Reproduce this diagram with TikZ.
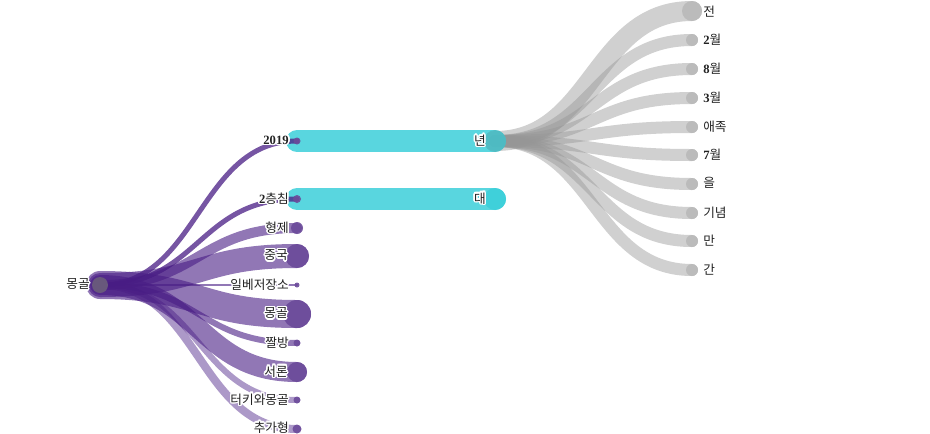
\documentclass[tikz,border=0pt]{standalone}
\usepackage{fontspec}
\setmainfont{Noto Sans CJK KR}
\newfontfamily\numf{Liberation Serif}
\usepackage{contour}
\contourlength{1.1pt}
\usetikzlibrary{calc}
\definecolor{plink}{RGB}{72,28,132}
\definecolor{pnode}{RGB}{107,74,154}
\definecolor{cyanc}{RGB}{60,207,217}
\definecolor{glink}{RGB}{150,150,150}
\definecolor{gnode}{RGB}{187,187,187}
\definecolor{rootc}{RGB}{104,88,124}
\definecolor{txt}{RGB}{34,34,34}
\tikzset{
  lnk/.style={line cap=round, draw=#1},
  lbl/.style={inner sep=0pt, text=txt, font=\fontsize{9.5}{10}\selectfont},
  dot/.style={circle, inner sep=0pt, draw=none}
}
\newcommand\dg[1]{{\numf\bfseries #1}}
\begin{document}
\begin{tikzpicture}[x=0.75pt,y=-0.75pt]
\useasboundingbox (0,0) rectangle (930,433);
\coordinate (root) at (100,285);
\foreach \i/\y in {1/141,2/199,3/228,4/256,5/285,6/314,7/343,8/372,9/400,10/429}
  \coordinate (p\i) at (297,\y);
\coordinate (q1) at (495,141);
\coordinate (q2) at (495,199);
\foreach \i/\y in {1/11,2/40,3/69,4/98,5/127,6/155,7/184,8/213,9/241,10/270}
  \coordinate (g\i) at (692,\y);
% grey links
\foreach \i/\w in {1/20,2/12,3/12,4/12,5/12,6/12,7/12,8/12,9/12,10/12}{
  \path (q1) -- coordinate[pos=.5] (m) (g\i);
  \draw[lnk=glink, draw opacity=0.45, line width=\w*0.75pt] (q1) .. controls (m |- q1) and (m |- g\i) .. (g\i);
}
% cyan links
\draw[lnk=cyanc, draw opacity=0.85, line width=22*0.75pt] (p1) -- (q1);
\draw[lnk=cyanc, draw opacity=0.85, line width=22*0.75pt] (p2) -- (q2);
% purple links
\foreach \i/\w/\o in {1/5/0.75,2/5/0.75,3/10/0.6,4/24/0.6,5/2/0.6,6/28/0.6,7/6/0.6,8/20/0.6,9/6/0.45,10/8/0.45}{
  \path (root) -- coordinate[pos=.5] (m) (p\i);
  \draw[lnk=plink, draw opacity=\o, line width=\w*0.75pt] (root) .. controls (m |- root) and (m |- p\i) .. (p\i);
}
% nodes
\node[dot, fill=rootc, minimum size=16*0.75pt] (n-root) at (root) {};
\foreach \i/\r in {1/3.5,2/4,3/6,4/12,5/2.5,6/14,7/3.5,8/10,9/3.5,10/4.5}
  \node[dot, fill=pnode, fill opacity=0.9, minimum size=2*\r*0.75pt] (n-p\i) at (p\i) {};
\node[dot, fill=cyanc!70!gray, fill opacity=0.75, minimum size=22*0.75pt] (n-q1) at (q1) {};
\node[dot, fill=cyanc, fill opacity=0.9, minimum size=22*0.75pt] (n-q2) at (q2) {};
\foreach \i/\r in {1/10,2/6,3/6,4/6,5/6,6/6,7/6,8/6,9/6,10/6}
  \node[dot, fill=gnode, minimum size=2*\r*0.75pt] (n-g\i) at (g\i) {};
% labels
\node[lbl, anchor=east] (t-root) at (90,285) {\contour{white}{몽골}};
\node[lbl, anchor=east] (t-p1) at (289,141) {\contour{white}{\dg{2019}}};
\node[lbl, anchor=east] (t-p2) at (289,199) {\contour{white}{\dg{2}층침}};
\node[lbl, anchor=east] (t-p3) at (289,228) {\contour{white}{형제}};
\node[lbl, anchor=east] (t-p4) at (288,256) {\contour{white}{중국}};
\node[lbl, anchor=east] (t-p5) at (289,285) {\contour{white}{일베저장소}};
\node[lbl, anchor=east] (t-p6) at (288,314) {\contour{white}{몽골}};
\node[lbl, anchor=east] (t-p7) at (289,343) {\contour{white}{짤방}};
\node[lbl, anchor=east] (t-p8) at (288,372) {\contour{white}{서론}};
\node[lbl, anchor=east] (t-p9) at (289,400) {\contour{white}{터키와몽골}};
\node[lbl, anchor=east] (t-p10) at (289,428) {\contour{white}{추가형}};
\node[lbl, anchor=east] (t-q1) at (486,141) {\contour{white}{년}};
\node[lbl, anchor=east] (t-q2) at (486,199) {\contour{white}{대}};
\node[lbl, anchor=west] (t-g1) at (703,12) {\contour{white}{전}};
\node[lbl, anchor=west] (t-g2) at (703,40) {\contour{white}{\dg{2}월}};
\node[lbl, anchor=west] (t-g3) at (703,69) {\contour{white}{\dg{8}월}};
\node[lbl, anchor=west] (t-g4) at (703,98) {\contour{white}{\dg{3}월}};
\node[lbl, anchor=west] (t-g5) at (703,127) {\contour{white}{애족}};
\node[lbl, anchor=west] (t-g6) at (703,155) {\contour{white}{\dg{7}월}};
\node[lbl, anchor=west] (t-g7) at (703,184) {\contour{white}{을}};
\node[lbl, anchor=west] (t-g8) at (703,213) {\contour{white}{기념}};
\node[lbl, anchor=west] (t-g9) at (703,241) {\contour{white}{만}};
\node[lbl, anchor=west] (t-g10) at (703,270) {\contour{white}{간}};
\end{tikzpicture}
\end{document}
